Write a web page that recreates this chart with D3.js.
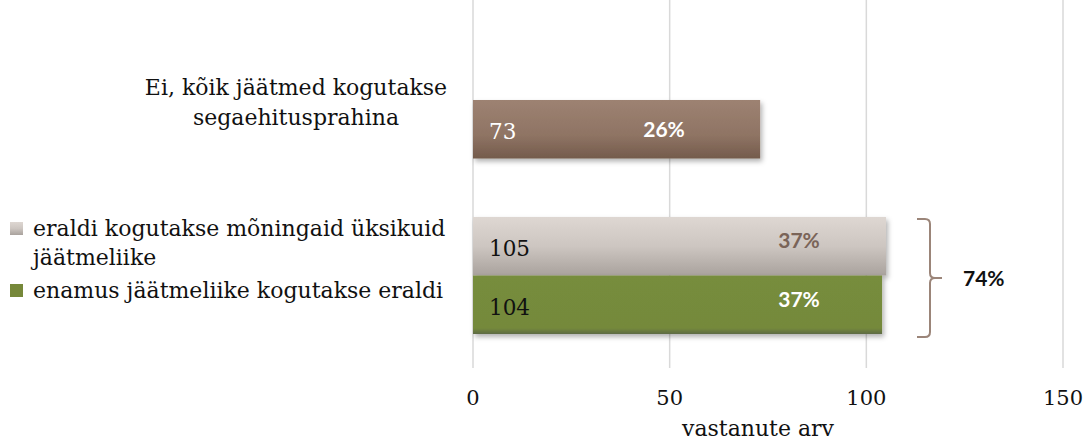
<!DOCTYPE html>
<html>
<head>
<meta charset="utf-8">
<script src="https://cdn.jsdelivr.net/npm/d3@7"></script>
<style>
  body { margin: 0; background: #fff; }
  .serif { font-family: "DejaVu Serif", serif; }
  .pct { font-family: "Lato", "Open Sans", sans-serif; font-weight: bold; }
</style>
</head>
<body>
<script>
(function () {

// data
var rowLabels = [
    ["Ei, kõik jäätmed kogutakse", "segaehitusprahina"],
    ["eraldi kogutakse mõningaid üksikuid", "jäätmeliike"],
    ["enamus jäätmeliike kogutakse eraldi"]
];
var rowValues = [73, 105, 104];
var rowPercents = ["26%", "37%", "37%"];
var rowSlots = [0, 2, 3];           // slot 1 left empty as gap
var groupTotal = "74%";              // eraldi + enamus
var xTicks = [0, 50, 100, 150];
var xTitle = "vastanute arv";

var width = 1089, height = 440;

var svg = d3.select("body").append("svg")
    .attr("width", width)
    .attr("height", height);

var x = d3.scaleLinear().domain([0, 150]).range([473, 1063]);
var y = d3.scaleBand().domain([0, 1, 2, 3]).range([100, 334]).padding(0);

var defs = svg.append("defs");

//gradients for bars
function grad(id, stops) {
    var g = defs.append("linearGradient").attr("id", id)
        .attr("x1", 0).attr("y1", 0).attr("x2", 0).attr("y2", 1);
    stops.forEach(function (s) {
        g.append("stop").attr("offset", s[0]).attr("stop-color", s[1]);
    });
}
grad("gBrown", [[0, "#9d8272"], [0.6, "#8f7464"], [1, "#745b4c"]]);
grad("gGray", [[0, "#ded7d2"], [0.5, "#cdc6c1"], [1, "#a9a29d"]]);
grad("gGreen", [[0, "#778d3c"], [0.9, "#74893b"], [1, "#5f6b45"]]);
var fills = ["url(#gBrown)", "url(#gGray)", "url(#gGreen)"];
var swatch = [null, "url(#gGray)", "#76883a"];
var valueColors = ["#ffffff", "#111111", "#111111"];
var pctColors = ["#ffffff", "#7a6458", "#ffffff"];

var shadow = defs.append("filter").attr("id", "shadow")
    .attr("x", "-5%").attr("y", "-20%").attr("width", "115%").attr("height", "150%");
shadow.append("feDropShadow").attr("dx", 2).attr("dy", 3)
    .attr("stdDeviation", 2.5).attr("flood-color", "#000").attr("flood-opacity", 0.3);

//gridlines
svg.append("g").selectAll("line")
    .data(xTicks)
    .enter().append("line")
    .attr("x1", function (d) { return x(d); })
    .attr("x2", function (d) { return x(d); })
    .attr("y1", 0).attr("y2", 368)
    .attr("stroke", "#d9d9d9").attr("stroke-width", 1.5);

//tick labels
svg.append("g").selectAll("text")
    .data(xTicks)
    .enter().append("text")
    .attr("class", "serif")
    .attr("x", function (d) { return x(d); })
    .attr("y", 405)
    .attr("text-anchor", "middle")
    .attr("font-size", 21)
    .attr("fill", "#111")
    .text(function (d) { return d; });

svg.append("text")
    .attr("class", "serif")
    .attr("x", 758)
    .attr("y", 436)
    .attr("text-anchor", "middle")
    .attr("font-size", 22)
    .attr("fill", "#111")
    .text(xTitle);

//bars
svg.append("g").selectAll("rect")
    .data(rowValues)
    .enter().append("rect")
    .attr("x", x(0))
    .attr("y", function (d, i) { return y(rowSlots[i]); })
    .attr("width", function (d) { return x(d) - x(0); })
    .attr("height", y.bandwidth())
    .attr("fill", function (d, i) { return fills[i]; })
    .attr("filter", "url(#shadow)");

//value labels
svg.append("g").selectAll("text")
    .data(rowValues)
    .enter().append("text")
    .attr("class", "serif")
    .attr("x", x(0) + 16)
    .attr("y", function (d, i) { return y(rowSlots[i]) + y.bandwidth() / 2 + 10; })
    .attr("font-size", 21.5)
    .attr("fill", function (d, i) { return valueColors[i]; })
    .text(function (d) { return d; });

//percent labels
var pctX = [664, 799, 799];
svg.append("g").selectAll("text")
    .data(rowPercents)
    .enter().append("text")
    .attr("class", "pct")
    .attr("x", function (d, i) { return pctX[i]; })
    .attr("y", function (d, i) { return y(rowSlots[i]) + y.bandwidth() / 2 + 8 - (i == 0 ? 0 : 6); })
    .attr("text-anchor", "middle")
    .attr("font-size", 21)
    .attr("fill", function (d, i) { return pctColors[i]; })
    .text(function (d) { return d; });

//category labels
rowLabels.forEach(function (lines, i) {
    var cy = i == 0 ? 103 : (i == 1 ? 236 : 298);
    var t = svg.append("text")
        .attr("class", "serif")
        .attr("font-size", 22)
        .attr("fill", "#111");
    if (i == 0) {
        t.attr("text-anchor", "middle");
        lines.forEach(function (l, k) {
            t.append("tspan").attr("x", 296).attr("y", 95 + k * 30).text(l);
        });
    } else {
        lines.forEach(function (l, k) {
            t.append("tspan").attr("x", 33).attr("y", cy + k * 29).text(l);
        });
        svg.append("rect")
            .attr("x", 10).attr("y", cy - 14)
            .attr("width", 13).attr("height", 13)
            .attr("fill", swatch[i]);
    }
});

//bracket around the two "yes" bars
var bx = 917, by0 = y(2) + 2, by1 = y(3) + y.bandwidth() + 3, bm = (by0 + by1) / 2;
svg.append("path")
    .attr("d", "M" + bx + "," + by0 + " L" + (bx + 8) + "," + by0 +
        " Q" + (bx + 13) + "," + by0 + " " + (bx + 13) + "," + (by0 + 5) +
        " L" + (bx + 13) + "," + (bm - 5) + " Q" + (bx + 13) + "," + bm + " " + (bx + 18) + "," + bm +
        " L" + (bx + 25) + "," + bm +
        " M" + (bx + 18) + "," + bm + " Q" + (bx + 13) + "," + bm + " " + (bx + 13) + "," + (bm + 5) +
        " L" + (bx + 13) + "," + (by1 - 5) + " Q" + (bx + 13) + "," + by1 + " " + (bx + 8) + "," + by1 +
        " L" + bx + "," + by1)
    .attr("fill", "none")
    .attr("stroke", "#9b8579")
    .attr("stroke-width", 2);

svg.append("text")
    .attr("class", "pct")
    .attr("x", 963)
    .attr("y", bm + 8)
    .attr("font-size", 21)
    .attr("fill", "#111")
    .text(groupTotal);

})();
</script>
</body>
</html>
